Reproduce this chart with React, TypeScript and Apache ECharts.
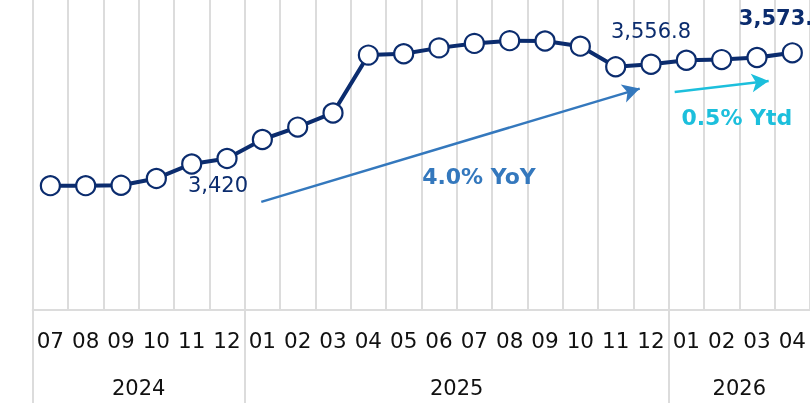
import React, { useEffect, useRef } from "react";
import * as echarts from "echarts";

const months = ["07","08","09","10","11","12","01","02","03","04","05","06","07","08","09","10","11","12","01","02","03","04"];
const values = [3380.5, 3380.5, 3381, 3391, 3412, 3420, 3447.5, 3465.5, 3486, 3570, 3572, 3580.5, 3587, 3591, 3590.5, 3583, 3553, 3556.8, 3562.5, 3563.5, 3566.5, 3573.3];
const years = ["2024", "2025", "2026"];
const yearMonthCounts = [6, 12, 4];
const labelledIdx = [5, 17, 21];
const boldIdx = [21];

// annotation arrows in (month position, value) coordinates
const yoyArrow = [[6.47, 3357], [17.18, 3521.4]];
const ytdArrow = [[18.17, 3516.4], [20.83, 3532.5]];
const yoyText = { pos: [12.63, 3393.2], text: "4.0% YoY" };
const ytdText = { pos: [19.93, 3479.6], text: "0.5% Ytd" };

const NAVY = "#0b2c6e";
const BLUE = "#3478bd";
const CYAN = "#1cbfdc";
const GRID = "#dcdcdc";
const FONT = "DejaVu Sans";

const fmt = new Intl.NumberFormat("en-US", { maximumFractionDigits: 1 });

export default function App() {
  const ref = useRef<HTMLDivElement>(null);
  useEffect(() => {
    const chart = echarts.init(ref.current!, null, { renderer: "svg" });
    const yearStarts: number[] = [];
    let acc = 0;
    yearMonthCounts.forEach((c) => { yearStarts.push(acc); acc += c; });
    const yearCenters = yearMonthCounts.map((c, i) => yearStarts[i] + c / 2);

    const data = values.map((v, i) => {
      if (!labelledIdx.includes(i)) return v;
      const bold = boldIdx.includes(i);
      const below = i === 5;
      return {
        value: v,
        label: {
          show: true,
          position: below ? "bottom" : "top",
          distance: below ? 5 : bold ? 14 : 12,
          offset: below ? [-9, 0] : bold ? [-9, 0] : [0, 0],
          formatter: () => fmt.format(v),
          color: NAVY,
          fontFamily: FONT,
          fontSize: 21,
          fontWeight: bold ? "bold" : "normal",
        },
      };
    });

    chart.setOption({
      animation: false,
      grid: { left: 32.7, top: 0, width: 779, bottom: 93 },
      xAxis: [
        {
          type: "category",
          data: months,
          boundaryGap: true,
          axisLine: { show: true, lineStyle: { color: GRID, width: 2 } },
          axisTick: { show: false },
          splitLine: { show: true, lineStyle: { color: GRID, width: 2 } },
          axisLabel: { color: "#111", fontFamily: FONT, fontSize: 21.5, margin: 19, interval: 0 },
        },
        {
          type: "value",
          min: 0,
          max: months.length,
          position: "bottom",
          axisLine: { show: false },
          splitLine: { show: false },
          axisTick: {
            show: true,
            customValues: yearStarts,
            length: 100,
            lineStyle: { color: GRID, width: 2 },
          },
          axisLabel: {
            show: true,
            customValues: yearCenters,
            formatter: (v: number) => years[yearCenters.findIndex((c) => Math.abs(c - v) < 1e-6)] ?? "",
            color: "#111",
            fontFamily: FONT,
            fontSize: 21,
            margin: 67,
          },
        },
      ],
      yAxis: { type: "value", min: 3200, max: 3650, show: false, splitLine: { show: false } },
      series: [
        {
          type: "line",
          data,
          xAxisIndex: 0,
          symbol: "circle",
          symbolSize: 19,
          lineStyle: { color: NAVY, width: 4 },
          itemStyle: { color: "#fff", borderColor: NAVY, borderWidth: 2.2 },
          z: 5,
        },
        {
          type: "line",
          xAxisIndex: 1,
          data: [],
          markLine: {
            silent: true,
            symbol: ["none", "arrow"],
            symbolSize: [14, 17],
            label: { show: false },
            data: [
              [
                { coord: yoyArrow[0], lineStyle: { color: BLUE, width: 2.5, type: "solid" } },
                { coord: yoyArrow[1] },
              ],
              [
                { coord: ytdArrow[0], lineStyle: { color: CYAN, width: 2.5, type: "solid" } },
                { coord: ytdArrow[1] },
              ],
            ],
          },
          markPoint: {
            silent: true,
            symbol: "circle",
            symbolSize: 0,
            data: [
              { coord: yoyText.pos, label: { show: true, position: "inside", formatter: yoyText.text, color: BLUE, fontFamily: FONT, fontSize: 22, fontWeight: "bold" } },
              { coord: ytdText.pos, label: { show: true, position: "inside", formatter: ytdText.text, color: CYAN, fontFamily: FONT, fontSize: 22, fontWeight: "bold" } },
            ],
          },
        },
      ],
    });
    return () => chart.dispose();
  }, []);
  return <div ref={ref} style={{ position: "fixed", left: 0, top: 0, width: 810, height: 403 }} />;
}
